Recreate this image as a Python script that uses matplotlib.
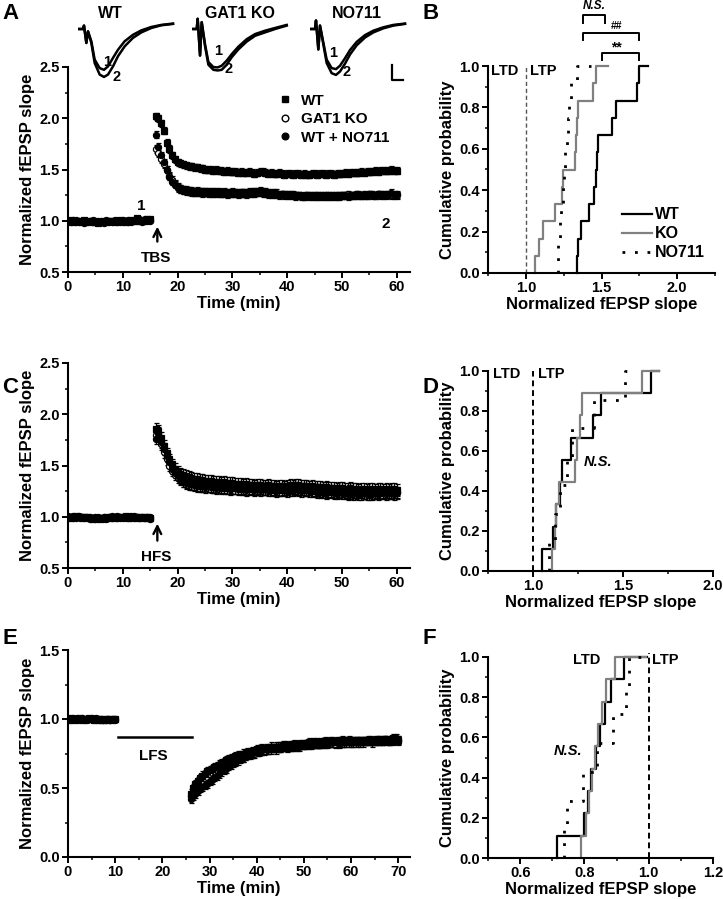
import numpy as np
import matplotlib.pyplot as plt
from matplotlib.lines import Line2D
from matplotlib.ticker import MultipleLocator, FormatStrFormatter

plt.rcParams['font.family'] = ['Liberation Sans', 'DejaVu Sans']
plt.rcParams['font.weight'] = 'bold'
plt.rcParams['axes.labelweight'] = 'bold'

# ---------------- data ----------------
# example fEPSP traces (ms, mV), 1 = baseline, 2 = after induction
trace_t = [0, 1.5, 1.8, 2.5, 3.0, 4.0, 5.0, 6.5, 7.8, 9.0, 10.5, 12.0, 14.0, 16.5, 19.0, 22.0, 25.0, 28.5]
wt_trace1 = [0, 0, 0.10, -0.41, -0.07, -0.36, -0.90, -1.15, -1.20, -1.10, -0.85, -0.61, -0.36, -0.17, -0.04, 0.06, 0.12, 0.16]
wt_trace2 = [0, 0, 0.10, -0.41, -0.07, -0.41, -1.00, -1.34, -1.41, -1.34, -1.10, -0.80, -0.51, -0.26, -0.10, 0.03, 0.11, 0.15]
ko_trace1 = [0, 0, 0.30, -0.78, 0.20, -0.45, -0.97, -1.12, -1.13, -1.08, -0.93, -0.74, -0.52, -0.30, -0.15, -0.05, 0.03, 0.12]
ko_trace2 = [0, 0, 0.30, -0.78, 0.20, -0.50, -1.05, -1.20, -1.22, -1.20, -1.05, -0.83, -0.60, -0.37, -0.20, -0.10, 0.00, 0.10]
no_trace1 = [0, 0, 0.25, -0.60, 0.10, -0.40, -0.90, -1.15, -1.18, -1.08, -0.86, -0.62, -0.38, -0.18, -0.05, 0.05, 0.12, 0.16]
no_trace2 = [0, 0, 0.25, -0.60, 0.10, -0.45, -1.00, -1.30, -1.35, -1.25, -1.02, -0.75, -0.48, -0.25, -0.10, 0.02, 0.10, 0.15]

# panel A (TBS), sampled every 0.5 min
a_t_base = np.arange(0, 15.5, 0.5)
a_t_post = np.arange(16, 60.5, 0.5)
a_wt_base = [1.00, 1.01, 0.99, 1.00, 1.00, 0.99, 1.01, 1.00, 0.99, 1.00,
             0.99, 0.98, 0.99, 1.00, 0.99, 1.00, 1.00, 0.99, 1.00, 1.01,
             1.00, 0.99, 1.00, 1.01, 1.00, 1.03, 1.01, 1.00, 1.01, 1.02,
             1.02]
a_ko_base = [1.00, 0.99, 1.00, 1.01, 0.99, 1.00, 0.99, 1.00, 1.00, 1.01,
             0.99, 0.99, 1.00, 0.98, 1.00, 0.99, 1.00, 1.01, 0.99, 1.00,
             0.99, 1.00, 1.01, 0.99, 1.00, 1.00, 1.02, 0.99, 1.00, 1.01,
             1.00]
a_no_base = [0.99, 1.00, 1.01, 0.99, 1.00, 1.00, 0.98, 0.99, 1.00, 0.99,
             1.00, 1.00, 0.99, 0.99, 1.01, 1.00, 0.99, 1.00, 1.00, 0.99,
             1.01, 1.00, 0.99, 1.00, 1.01, 1.01, 1.00, 1.00, 1.02, 1.00,
             1.01]
a_wt_post = [2.02, 2.00, 1.95, 1.88, 1.76, 1.70, 1.64, 1.60, 1.57, 1.56,
             1.55, 1.54, 1.53, 1.53, 1.52, 1.52, 1.51, 1.51, 1.50, 1.50,
             1.50, 1.49, 1.50, 1.49, 1.49, 1.48, 1.49, 1.48, 1.48, 1.48,
             1.47, 1.48, 1.47, 1.47, 1.48, 1.47, 1.46, 1.47, 1.48, 1.48,
             1.47, 1.46, 1.47, 1.46, 1.46, 1.47, 1.46, 1.45, 1.46, 1.46,
             1.45, 1.46, 1.46, 1.45, 1.46, 1.45, 1.45, 1.46, 1.46, 1.45,
             1.46, 1.46, 1.45, 1.46, 1.46, 1.45, 1.46, 1.46, 1.46, 1.47,
             1.46, 1.47, 1.47, 1.47, 1.47, 1.48, 1.47, 1.48, 1.48, 1.48,
             1.49, 1.48, 1.49, 1.49, 1.49, 1.49, 1.50, 1.49, 1.49]
a_ko_post = [1.70, 1.66, 1.60, 1.55, 1.50, 1.44, 1.40, 1.36, 1.33, 1.31,
             1.30, 1.29, 1.29, 1.28, 1.28, 1.28, 1.28, 1.27, 1.28, 1.28,
             1.27, 1.28, 1.28, 1.27, 1.27, 1.28, 1.27, 1.27, 1.28, 1.27,
             1.27, 1.27, 1.27, 1.26, 1.27, 1.28, 1.28, 1.28, 1.29, 1.28,
             1.28, 1.27, 1.27, 1.26, 1.27, 1.26, 1.26, 1.26, 1.26, 1.25,
             1.26, 1.25, 1.25, 1.25, 1.24, 1.25, 1.25, 1.24, 1.25, 1.25,
             1.24, 1.25, 1.25, 1.24, 1.25, 1.25, 1.24, 1.25, 1.25, 1.25,
             1.26, 1.25, 1.25, 1.26, 1.25, 1.25, 1.26, 1.25, 1.26, 1.25,
             1.25, 1.26, 1.25, 1.26, 1.25, 1.26, 1.25, 1.25, 1.25]
a_no_post = [1.84, 1.72, 1.64, 1.57, 1.50, 1.43, 1.38, 1.35, 1.32, 1.31,
             1.30, 1.30, 1.29, 1.29, 1.28, 1.29, 1.28, 1.28, 1.28, 1.27,
             1.28, 1.27, 1.27, 1.28, 1.27, 1.27, 1.26, 1.27, 1.27, 1.27,
             1.26, 1.27, 1.27, 1.27, 1.28, 1.27, 1.27, 1.28, 1.28, 1.27,
             1.27, 1.26, 1.26, 1.27, 1.26, 1.25, 1.26, 1.25, 1.25, 1.26,
             1.25, 1.24, 1.25, 1.24, 1.24, 1.25, 1.24, 1.25, 1.24, 1.24,
             1.25, 1.24, 1.24, 1.25, 1.24, 1.24, 1.25, 1.24, 1.25, 1.25,
             1.24, 1.25, 1.25, 1.25, 1.26, 1.25, 1.25, 1.25, 1.26, 1.26,
             1.25, 1.26, 1.26, 1.25, 1.26, 1.26, 1.27, 1.26, 1.26]
a_sem_base = 0.015
a_sem_post = 0.035

# panel C (HFS)
c_t_base = np.arange(0, 15.5, 0.5)
c_t_post = np.arange(16, 60.5, 0.5)
c_wt_base = [1.00, 0.99, 1.00, 1.01, 1.00, 0.99, 1.00, 1.00, 0.99, 0.98,
             0.99, 0.99, 0.98, 0.99, 1.00, 0.99, 1.00, 0.99, 1.00, 1.00,
             1.00, 1.01, 0.99, 1.00, 1.00, 0.99, 1.00, 0.99, 1.00, 1.00,
             0.99]
c_ko_base = [1.01, 1.00, 0.99, 1.00, 1.01, 1.00, 1.00, 0.99, 0.98, 0.99,
             1.00, 0.98, 0.99, 1.00, 0.99, 1.00, 1.01, 1.00, 0.99, 1.00,
             0.99, 1.00, 1.00, 0.99, 1.01, 1.00, 0.99, 1.00, 0.99, 0.99,
             1.00]
c_no_base = [0.99, 1.00, 1.01, 0.99, 1.00, 1.00, 0.99, 1.00, 1.00, 0.99,
             0.98, 1.00, 0.99, 0.99, 0.98, 1.00, 0.99, 1.00, 1.01, 0.99,
             1.00, 1.00, 0.99, 1.01, 0.99, 1.00, 1.00, 1.00, 0.99, 1.00,
             0.98]
c_wt_post = [1.86, 1.84, 1.77, 1.69, 1.62, 1.56, 1.51, 1.47, 1.44, 1.42,
             1.41, 1.40, 1.39, 1.38, 1.37, 1.37, 1.36, 1.36, 1.35, 1.35,
             1.35, 1.34, 1.34, 1.34, 1.33, 1.34, 1.33, 1.33, 1.33, 1.32,
             1.32, 1.32, 1.31, 1.32, 1.31, 1.31, 1.30, 1.31, 1.31, 1.30,
             1.30, 1.31, 1.30, 1.30, 1.29, 1.30, 1.30, 1.29, 1.30, 1.31,
             1.30, 1.31, 1.31, 1.30, 1.30, 1.30, 1.29, 1.30, 1.29, 1.29,
             1.29, 1.28, 1.29, 1.28, 1.28, 1.28, 1.27, 1.28, 1.28, 1.27,
             1.27, 1.28, 1.27, 1.27, 1.26, 1.27, 1.27, 1.26, 1.27, 1.27,
             1.26, 1.27, 1.27, 1.26, 1.27, 1.26, 1.27, 1.27, 1.26]
c_ko_post = [1.80, 1.78, 1.71, 1.63, 1.56, 1.50, 1.45, 1.41, 1.38, 1.36,
             1.35, 1.34, 1.33, 1.32, 1.32, 1.31, 1.31, 1.30, 1.31, 1.30,
             1.30, 1.29, 1.30, 1.29, 1.29, 1.29, 1.28, 1.29, 1.28, 1.28,
             1.28, 1.28, 1.28, 1.27, 1.28, 1.28, 1.27, 1.28, 1.28, 1.27,
             1.27, 1.28, 1.27, 1.27, 1.27, 1.26, 1.27, 1.27, 1.27, 1.28,
             1.27, 1.28, 1.27, 1.27, 1.27, 1.26, 1.27, 1.26, 1.26, 1.26,
             1.25, 1.26, 1.25, 1.25, 1.25, 1.24, 1.25, 1.24, 1.25, 1.24,
             1.24, 1.25, 1.24, 1.24, 1.24, 1.24, 1.23, 1.24, 1.24, 1.23,
             1.24, 1.24, 1.23, 1.24, 1.24, 1.23, 1.24, 1.24, 1.24]
c_no_post = [1.76, 1.82, 1.73, 1.66, 1.59, 1.53, 1.47, 1.43, 1.40, 1.37,
             1.35, 1.33, 1.32, 1.32, 1.31, 1.30, 1.30, 1.30, 1.29, 1.30,
             1.29, 1.29, 1.28, 1.29, 1.28, 1.28, 1.28, 1.27, 1.28, 1.28,
             1.27, 1.27, 1.27, 1.26, 1.27, 1.27, 1.26, 1.27, 1.26, 1.27,
             1.27, 1.26, 1.26, 1.26, 1.25, 1.26, 1.26, 1.26, 1.25, 1.26,
             1.26, 1.27, 1.26, 1.25, 1.26, 1.26, 1.25, 1.25, 1.25, 1.24,
             1.24, 1.24, 1.23, 1.24, 1.24, 1.23, 1.23, 1.24, 1.23, 1.23,
             1.22, 1.23, 1.22, 1.23, 1.22, 1.22, 1.23, 1.22, 1.22, 1.22,
             1.23, 1.22, 1.23, 1.23, 1.22, 1.23, 1.23, 1.22, 1.23]
c_sem_base = 0.02
c_sem_post = 0.055

# panel E (LFS)
e_t_base = np.arange(0, 10.5, 0.5)
e_t_post = np.arange(26, 70.5, 0.5)
e_wt_base = [1.00, 1.01, 0.99, 1.00, 1.00, 1.01, 0.99, 1.00, 1.00, 1.01,
             1.00, 0.99, 1.00, 1.00, 0.99, 0.99, 1.00, 0.99, 1.00, 1.00,
             1.00]
e_ko_base = [1.00, 0.99, 1.00, 1.00, 1.01, 1.00, 1.00, 0.99, 1.00, 1.00,
             1.01, 1.00, 0.99, 1.00, 1.00, 1.00, 0.99, 1.00, 0.99, 1.00,
             0.99]
e_no_base = [0.99, 1.00, 1.01, 1.00, 0.99, 1.00, 1.01, 1.00, 0.99, 1.00,
             1.00, 1.00, 1.01, 0.99, 1.00, 0.99, 1.00, 1.00, 0.99, 0.99,
             1.00]
e_wt_post = [0.46, 0.50, 0.53, 0.55, 0.57, 0.59, 0.60, 0.62, 0.63, 0.64,
             0.65, 0.66, 0.67, 0.68, 0.69, 0.70, 0.71, 0.72, 0.72, 0.73,
             0.74, 0.74, 0.75, 0.75, 0.76, 0.76, 0.77, 0.77, 0.78, 0.78,
             0.79, 0.78, 0.79, 0.79, 0.80, 0.79, 0.80, 0.80, 0.80, 0.81,
             0.81, 0.80, 0.81, 0.81, 0.82, 0.81, 0.82, 0.82, 0.82, 0.82,
             0.83, 0.82, 0.83, 0.83, 0.82, 0.83, 0.83, 0.84, 0.83, 0.84,
             0.84, 0.83, 0.84, 0.84, 0.85, 0.84, 0.84, 0.85, 0.84, 0.84,
             0.84, 0.84, 0.83, 0.84, 0.84, 0.84, 0.85, 0.84, 0.84, 0.85,
             0.85, 0.84, 0.85, 0.85, 0.84, 0.85, 0.86, 0.85, 0.85]
e_ko_post = [0.44, 0.46, 0.48, 0.51, 0.53, 0.55, 0.57, 0.58, 0.60, 0.61,
             0.62, 0.63, 0.64, 0.65, 0.66, 0.67, 0.68, 0.69, 0.69, 0.70,
             0.71, 0.72, 0.72, 0.73, 0.74, 0.74, 0.75, 0.75, 0.76, 0.76,
             0.77, 0.77, 0.78, 0.78, 0.78, 0.79, 0.79, 0.79, 0.79, 0.80,
             0.80, 0.80, 0.80, 0.81, 0.81, 0.80, 0.81, 0.81, 0.81, 0.82,
             0.81, 0.82, 0.82, 0.82, 0.82, 0.82, 0.83, 0.82, 0.83, 0.83,
             0.83, 0.82, 0.83, 0.83, 0.83, 0.83, 0.84, 0.83, 0.83, 0.84,
             0.83, 0.84, 0.84, 0.83, 0.84, 0.84, 0.84, 0.83, 0.84, 0.84,
             0.84, 0.84, 0.85, 0.84, 0.84, 0.85, 0.84, 0.85, 0.84]
e_no_post = [0.42, 0.44, 0.46, 0.48, 0.50, 0.51, 0.52, 0.53, 0.55, 0.56,
             0.58, 0.59, 0.60, 0.62, 0.63, 0.64, 0.66, 0.67, 0.68, 0.69,
             0.70, 0.71, 0.72, 0.73, 0.74, 0.75, 0.75, 0.76, 0.76, 0.77,
             0.77, 0.78, 0.78, 0.78, 0.79, 0.79, 0.78, 0.79, 0.79, 0.80,
             0.80, 0.79, 0.80, 0.80, 0.80, 0.81, 0.80, 0.81, 0.81, 0.81,
             0.82, 0.81, 0.82, 0.82, 0.82, 0.82, 0.82, 0.83, 0.82, 0.83,
             0.83, 0.83, 0.83, 0.82, 0.83, 0.83, 0.83, 0.84, 0.83, 0.83,
             0.84, 0.83, 0.84, 0.84, 0.84, 0.85, 0.84, 0.84, 0.85, 0.84,
             0.85, 0.84, 0.85, 0.85, 0.84, 0.85, 0.85, 0.86, 0.85]
e_sem_base = 0.015
e_sem_post = 0.03

# cumulative distributions (per-slice normalized slopes), end = where the top line stops
b_wt = [1.340, 1.343, 1.362, 1.418, 1.450, 1.463, 1.470, 1.474, 1.570, 1.597, 1.732, 1.749]
b_ko = [1.060, 1.089, 1.116, 1.195, 1.240, 1.246, 1.325, 1.330, 1.337, 1.345, 1.447, 1.463]
b_no = [1.210, 1.215, 1.225, 1.235, 1.245, 1.255, 1.262, 1.270, 1.278, 1.285, 1.300, 1.335]
b_end = {'wt': 1.81, 'ko': 1.546, 'no': 1.43}

d_wt = [1.052, 1.112, 1.125, 1.148, 1.159, 1.210, 1.333, 1.378, 1.658]
d_ko = [1.108, 1.120, 1.130, 1.145, 1.234, 1.243, 1.260, 1.271, 1.605]
d_no = [1.090, 1.120, 1.150, 1.190, 1.215, 1.340, 1.510]
d_end = {'wt': 1.70, 'ko': 1.70, 'no': 1.57}

f_wt = [0.714, 0.800, 0.810, 0.820, 0.835, 0.847, 0.865, 0.883, 0.924]
f_ko = [0.790, 0.805, 0.815, 0.823, 0.832, 0.842, 0.855, 0.868, 0.896]
f_no = [0.735, 0.745, 0.795, 0.840, 0.890, 0.930, 0.940]
f_end = {'wt': 0.995, 'ko': 0.99, 'no': 0.995}

# ---------------- figure ----------------
W, H = 723, 899
fig = plt.figure(figsize=(W / 100, H / 100), dpi=100)


def px_axes(left, top, right, bottom):
    return fig.add_axes([left / W, 1 - bottom / H, (right - left) / W, (bottom - top) / H])


def style(ax):
    for s in ['top', 'right']:
        ax.spines[s].set_visible(False)
    for s in ['left', 'bottom']:
        ax.spines[s].set_linewidth(1.5)
    ax.tick_params(which='major', direction='out', length=4, width=1.4, labelsize=10.5, pad=2)
    ax.tick_params(which='minor', direction='out', length=2.5, width=1.1)


def timecourse(ax, t_base, t_post, groups, sem_base, sem_post):
    for base, post, marker, face in groups:
        for t, y, e in [(t_base, base, sem_base), (t_post, post, sem_post)]:
            ax.errorbar(t, y, yerr=e, fmt=marker, ms=4.4, mfc=face, mec='black', mew=0.9,
                        ecolor='black', elinewidth=0.9, capsize=1.8, capthick=0.9)


def ecdf(ax, vals, end, **kw):
    n = len(vals)
    xs = np.concatenate([[vals[0]], vals, [end]])
    ys = np.concatenate([[0], np.arange(1, n + 1) / n, [1]])
    ax.step(xs, ys, where='post', clip_on=False, **kw)


lab_fs = 12
# ---- A ----
axA = px_axes(68, 67, 410, 272)
style(axA)
timecourse(axA, a_t_base, a_t_post,
           [(a_ko_base, a_ko_post, 'o', 'white'),
            (a_no_base, a_no_post, 'o', 'black'),
            (a_wt_base, a_wt_post, 's', 'black')],
           a_sem_base, a_sem_post)
axA.set_xlim(0, 62.4)
axA.set_ylim(0.5, 2.5)
axA.xaxis.set_major_locator(MultipleLocator(10))
axA.xaxis.set_minor_locator(MultipleLocator(5))
axA.yaxis.set_major_locator(MultipleLocator(0.5))
axA.yaxis.set_minor_locator(MultipleLocator(0.25))
axA.yaxis.set_major_formatter(FormatStrFormatter('%.1f'))
axA.set_xlabel('Time (min)', fontsize=lab_fs, labelpad=1)
axA.set_ylabel('Normalized fEPSP slope', fontsize=lab_fs, labelpad=3)
axA.annotate('', xy=(16.3, 0.97), xytext=(16.3, 0.77),
             arrowprops=dict(arrowstyle='->', lw=1.7, color='black', mutation_scale=14))
axA.text(16.1, 0.64, 'TBS', ha='center', va='center', fontsize=11)
axA.text(13.4, 1.14, '1', ha='center', va='center', fontsize=11)
axA.text(57.9, 0.97, '2', ha='center', va='center', fontsize=11)
handles = [Line2D([], [], marker='s', ls='none', ms=4.8, mfc='black', mec='black'),
           Line2D([], [], marker='o', ls='none', ms=4.8, mfc='white', mec='black'),
           Line2D([], [], marker='o', ls='none', ms=4.8, mfc='black', mec='black')]
axA.legend(handles, ['WT', 'GAT1 KO', 'WT + NO711'], loc='upper left', bbox_to_anchor=(0.6, 0.9),
           frameon=False, fontsize=11, handlelength=0.8, handletextpad=0.6, labelspacing=0.3,
           borderaxespad=0)

# traces above A
trace_sets = [(78, wt_trace1, wt_trace2, 'WT', 9.6, [(8.6, -0.96, '1'), (11.6, -1.40, '2')]),
              (191.7, ko_trace1, ko_trace2, 'GAT1 KO', 14.5, [(7.9, -0.64, '1'), (11.0, -1.17, '2')]),
              (310, no_trace1, no_trace2, 'NO711', 14.1, [(6.9, -0.71, '1'), (11.1, -1.26, '2')])]
for left, tr1, tr2, name, tx, marks in trace_sets:
    axt = px_axes(left, 5, left + 100, 90)
    axt.set_xlim(0, 30)
    axt.set_ylim(-1.794, 0.706)
    axt.axis('off')
    axt.plot(trace_t, tr1, color='black', lw=1.8)
    axt.plot(trace_t, tr2, color='black', lw=1.8)
    axt.text(tx, 0.47, name, ha='center', va='center', fontsize=11.5)
    for x, y, s in marks:
        axt.text(x, y, s, ha='center', va='center', fontsize=10.5)
    if name == 'NO711':
        axt.plot([24.6, 24.6, 27.9], [-1.06, -1.5, -1.5], color='black', lw=1.6, clip_on=False)

# ---- B ----
axB = px_axes(488, 66, 715, 273)
style(axB)
ecdf(axB, b_wt, b_end['wt'], color='black', lw=1.6, label='WT')
ecdf(axB, b_ko, b_end['ko'], color='#808080', lw=1.6, label='KO')
ecdf(axB, b_no, b_end['no'], color='black', lw=2, ls=(0, (1, 3.5)), label='NO711')
axB.plot([1.0, 1.0], [0, 1.0], color='#555555', lw=1.0, ls=(0, (3, 2)))
axB.set_xlim(0.75, 2.25)
axB.set_ylim(0, 1.0)
axB.xaxis.set_major_locator(MultipleLocator(0.5))
axB.xaxis.set_minor_locator(MultipleLocator(0.25))
axB.yaxis.set_major_locator(MultipleLocator(0.2))
axB.yaxis.set_minor_locator(MultipleLocator(0.1))
axB.xaxis.set_major_formatter(FormatStrFormatter('%.1f'))
axB.yaxis.set_major_formatter(FormatStrFormatter('%.1f'))
axB.set_xlabel('Normalized fEPSP slope', fontsize=lab_fs, labelpad=1)
axB.set_ylabel('Cumulative probability', fontsize=lab_fs, labelpad=3)
axB.text(0.77, 0.975, 'LTD', ha='left', va='center', fontsize=10.5)
axB.text(1.025, 0.975, 'LTP', ha='left', va='center', fontsize=10.5)
axB.legend(loc='lower left', bbox_to_anchor=(0.56, 0.03), frameon=False, fontsize=11.5,
           handlelength=1.9, handletextpad=0.2, labelspacing=0.25, borderaxespad=0)
for x0, x1, y, s, sx, sy, st, fs in [(1.375, 1.525, 1.244, 'N.S.', 1.45, 1.29, 'italic', 8.5),
                                     (1.375, 1.75, 1.160, '##', 1.60, 1.195, 'normal', 7.5),
                                     (1.505, 1.75, 1.063, '**', 1.60, 1.09, 'normal', 10)]:
    axB.plot([x0, x0, x1, x1], [y - 0.035, y, y, y - 0.035], color='black', lw=1.4, clip_on=False)
    axB.text(sx, sy, s, ha='center', va='center', fontsize=fs, style=st)

# ---- C ----
axC = px_axes(68, 363, 410, 568)
style(axC)
timecourse(axC, c_t_base, c_t_post,
           [(c_ko_base, c_ko_post, 'o', 'white'),
            (c_no_base, c_no_post, 'o', 'black'),
            (c_wt_base, c_wt_post, 's', 'black')],
           c_sem_base, c_sem_post)
axC.set_xlim(0, 62.4)
axC.set_ylim(0.5, 2.5)
axC.xaxis.set_major_locator(MultipleLocator(10))
axC.xaxis.set_minor_locator(MultipleLocator(5))
axC.yaxis.set_major_locator(MultipleLocator(0.5))
axC.yaxis.set_minor_locator(MultipleLocator(0.25))
axC.yaxis.set_major_formatter(FormatStrFormatter('%.1f'))
axC.set_xlabel('Time (min)', fontsize=lab_fs, labelpad=1)
axC.set_ylabel('Normalized fEPSP slope', fontsize=lab_fs, labelpad=3)
axC.annotate('', xy=(16.3, 0.96), xytext=(16.3, 0.74),
             arrowprops=dict(arrowstyle='->', lw=1.7, color='black', mutation_scale=14))
axC.text(16.1, 0.61, 'HFS', ha='center', va='center', fontsize=11)

# ---- D ----
axD = px_axes(488, 371, 713, 571)
style(axD)
ecdf(axD, d_wt, d_end['wt'], color='black', lw=1.6)
ecdf(axD, d_ko, d_end['ko'], color='#808080', lw=1.6)
ecdf(axD, d_no, d_end['no'], color='black', lw=2, ls=(0, (1, 3.5)))
axD.plot([1.0, 1.0], [0, 1.0], color='black', lw=1.4, ls=(0, (3, 2)))
axD.set_xlim(0.75, 2.0)
axD.set_ylim(0, 1.0)
axD.xaxis.set_major_locator(MultipleLocator(0.5))
axD.xaxis.set_minor_locator(MultipleLocator(0.25))
axD.yaxis.set_major_locator(MultipleLocator(0.2))
axD.yaxis.set_minor_locator(MultipleLocator(0.1))
axD.xaxis.set_major_formatter(FormatStrFormatter('%.1f'))
axD.yaxis.set_major_formatter(FormatStrFormatter('%.1f'))
axD.set_xlabel('Normalized fEPSP slope', fontsize=lab_fs, labelpad=1)
axD.set_ylabel('Cumulative probability', fontsize=lab_fs, labelpad=3)
axD.text(0.776, 0.985, 'LTD', ha='left', va='center', fontsize=10.5)
axD.text(1.03, 0.985, 'LTP', ha='left', va='center', fontsize=10.5)
axD.text(1.284, 0.547, 'N.S.', ha='left', va='center', fontsize=10.5, style='italic')

# ---- E ----
axE = px_axes(68, 650, 410, 857)
style(axE)
timecourse(axE, e_t_base, e_t_post,
           [(e_ko_base, e_ko_post, 'o', 'white'),
            (e_no_base, e_no_post, 'o', 'black'),
            (e_wt_base, e_wt_post, 's', 'black')],
           e_sem_base, e_sem_post)
axE.set_xlim(0, 72.5)
axE.set_ylim(0, 1.5)
axE.xaxis.set_major_locator(MultipleLocator(10))
axE.xaxis.set_minor_locator(MultipleLocator(5))
axE.yaxis.set_major_locator(MultipleLocator(0.5))
axE.yaxis.set_minor_locator(MultipleLocator(0.25))
axE.yaxis.set_major_formatter(FormatStrFormatter('%.1f'))
axE.set_xlabel('Time (min)', fontsize=lab_fs, labelpad=1)
axE.set_ylabel('Normalized fEPSP slope', fontsize=lab_fs, labelpad=3)
axE.plot([10.6, 26.2], [0.867, 0.867], color='black', lw=1.8)
axE.text(18.0, 0.73, 'LFS', ha='center', va='center', fontsize=11)

# ---- F ----
axF = px_axes(488, 657, 713, 858)
style(axF)
ecdf(axF, f_wt, f_end['wt'], color='black', lw=1.6)
ecdf(axF, f_ko, f_end['ko'], color='#808080', lw=1.6)
ecdf(axF, f_no, f_end['no'], color='black', lw=2, ls=(0, (1, 3.5)))
axF.plot([1.0, 1.0], [0, 1.02], color='black', lw=1.4, ls=(0, (3, 2)), clip_on=False)
axF.set_xlim(0.5, 1.2)
axF.set_ylim(0, 1.0)
axF.xaxis.set_major_locator(MultipleLocator(0.2))
axF.xaxis.set_minor_locator(MultipleLocator(0.1))
axF.yaxis.set_major_locator(MultipleLocator(0.2))
axF.yaxis.set_minor_locator(MultipleLocator(0.1))
axF.xaxis.set_major_formatter(FormatStrFormatter('%.1f'))
axF.yaxis.set_major_formatter(FormatStrFormatter('%.1f'))
axF.set_xlabel('Normalized fEPSP slope', fontsize=lab_fs, labelpad=1)
axF.set_ylabel('Cumulative probability', fontsize=lab_fs, labelpad=3)
axF.text(0.766, 0.985, 'LTD', ha='left', va='center', fontsize=10.5)
axF.text(1.01, 0.985, 'LTP', ha='left', va='center', fontsize=10.5)
axF.text(0.703, 0.53, 'N.S.', ha='left', va='center', fontsize=10.5, style='italic')

# panel letters
for s, x, y in [('A', 2, 3), ('B', 422, 3), ('C', 2, 377), ('D', 422, 377), ('E', 2, 628), ('F', 422, 628)]:
    fig.text(x / W, 1 - y / H, s, fontsize=16, fontweight='bold', ha='left', va='top')

fig.savefig('out.png', dpi=100)
